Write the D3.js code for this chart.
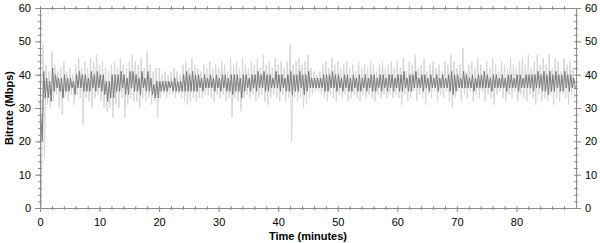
<!DOCTYPE html>
<html>
<head>
<meta charset="utf-8">
<script src="https://cdn.jsdelivr.net/npm/d3@7"></script>
<style>
  body { margin: 0; background: #fff; }
  svg { display: block; font-family: Arial, "Liberation Sans", sans-serif; }
  .tick-label { font-size: 11px; fill: #000; }
  .axis-title { font-size: 11px; font-weight: bold; fill: #000; }
</style>
</head>
<body>
<svg id="chart" width="600" height="243"></svg>
<script>
// bitrate samples, one entry per half minute (t = 0, 0.5, 1 ... 89.5)
// outer (light) spread of the trace
const peakHi = [33,49,43,41,47,43,41,42,44,41, 42,40,43,45,42,44,42,45,44,46,
  43,44,42,41,43,44,42,45,43,42, 44,46,44,43,45,42,47,43,41,42,
  42,40,41,40,41,42,41,40,43,44, 42,45,43,42,41,43,42,44,42,43,
  42,44,43,41,45,43,44,42,45,43, 42,44,43,45,42,46,43,44,42,45,
  43,44,42,44,49,43,44,45,43,44, 46,42,41,40,41,43,44,42,45,43,
  44,42,43,44,42,43,41,44,42,43, 42,44,43,41,43,44,42,43,44,42,
  44,42,45,41,44,43,46,42,43,45, 41,43,44,42,43,41,44,43,46,44,
  42,43,48,41,43,44,42,45,43,41, 44,42,45,43,41,44,43,42,45,43,
  42,44,45,43,46,42,44,46,43,45, 43,46,42,45,44,41,45,43,44,42];
const peakLo = [0,15,31,30,32,34,30,28,33,32, 34,31,34,33,25,33,32,30,33,34,
  32,30,29,30,27,31,30,33,27,31, 33,32,32,30,33,32,33,31,32,27,
  33,34,33,34,34,33,34,33,32,31, 32,33,32,33,33,34,34,33,32,34,
  33,34,32,33,27,33,32,29,33,34, 33,34,32,33,34,32,31,33,34,33,
  32,34,32,33,20,33,32,33,30,31, 33,34,35,35,34,33,32,34,33,32,
  34,33,34,32,33,34,33,32,34,33, 34,33,32,34,33,34,33,34,33,34,
  33,31,34,32,33,35,32,34,33,31, 34,33,35,32,34,33,35,32,30,33,
  35,32,34,33,35,32,34,33,35,32, 34,33,31,34,35,33,32,34,33,35,
  32,34,33,32,34,33,31,34,32,33, 32,34,31,33,32,34,33,31,34,33];
// inner (dark) band of the trace
const coreHi = [28,41,39,38,42,40,39,39,40,39, 39,38,40,41,40,40,39,41,40,41,
  40,40,38,38,40,40,40,41,40,39, 41,41,40,39,41,39,41,39,37,38,
  38,38,38,38,38,39,38,38,40,41, 40,41,40,40,39,40,39,40,39,40,
  39,40,40,39,40,40,40,39,40,40, 39,40,40,41,40,41,40,40,39,41,
  40,40,39,40,41,40,40,41,40,40, 41,39,39,39,39,40,40,40,41,40,
  40,39,40,40,39,40,39,40,39,40, 39,40,40,39,40,40,39,40,40,39,
  40,40,41,39,40,40,41,39,40,40, 39,40,39,40,39,40,39,40,41,40,
  40,39,41,40,39,40,39,40,40,41, 40,39,40,40,39,40,39,40,40,39,
  40,40,39,40,40,40,40,41,40,41, 40,41,40,41,40,40,41,40,40,39];
const coreLo = [20,33,33,32,35,36,35,33,35,35, 36,34,36,36,35,35,35,36,35,36,
  35,34,32,33,33,35,35,36,34,34, 36,35,35,34,36,35,35,34,33,33,
  35,35,35,36,35,35,35,35,35,35, 35,35,35,36,35,36,36,36,35,36,
  35,36,35,35,34,35,35,33,35,36, 35,36,35,36,36,35,35,36,36,36,
  35,36,35,35,34,35,35,36,34,35, 36,36,36,36,36,35,35,36,36,35,
  36,35,36,35,35,36,35,35,36,35, 36,35,35,36,35,36,35,36,35,36,
  35,35,36,35,35,36,36,36,35,36, 35,36,36,35,36,36,36,35,34,35,
  36,36,36,36,36,35,36,36,36,36, 36,35,36,36,36,36,35,36,36,36,
  35,36,36,36,36,35,36,36,35,35, 34,35,35,36,35,35,36,35,36,36];
const step = 0.5;
const xTicks = [0, 10, 20, 30, 40, 50, 60, 70, 80];
const yTicks = [0, 10, 20, 30, 40, 50, 60];

const svg = d3.select('#chart');
const plotLeft = 40, plotRight = 576, plotTop = 8, plotBottom = 208;

const x = d3.scaleLinear().domain([0, 90]).range([plotLeft, plotRight]);
const y = d3.scaleLinear().domain([0, 60]).range([plotBottom, plotTop]);

// zigzag through hi/lo pairs so the trace reads as a dense band
function zigzag(hi, lo, offset) {
    const pts = [];
    hi.forEach((v, i) => {
        const t = i * step;
        pts.push([t + offset, v]);
        pts.push([t + offset + step / 2, lo[i]]);
    });
    return pts;
}

const line = d3.line()
    .x(d => x(Math.min(d[0], 90)))
    .y(d => y(d[1]));

svg.append('path')
    .datum(zigzag(peakHi, peakLo, 0))
    .attr('fill', 'none')
    .attr('stroke', '#d6d6d6')
    .attr('stroke-width', 1)
    .attr('d', line);

svg.append('path')
    .datum(zigzag(coreHi, coreLo, step / 4))
    .attr('fill', 'none')
    .attr('stroke', '#7a7a7a')
    .attr('stroke-width', 1)
    .attr('d', line);

// frame and axes
const axisColor = '#8c8c8c';
const minorX = d3.range(0, 90, 2);
const minorY = d3.range(0, 61, 2);

function axis(gen, ticks, tx, ty) {
    const g = svg.append('g')
        .attr('transform', `translate(${tx},${ty})`)
        .call(gen.tickValues(ticks).tickSizeOuter(0));
    g.select('.domain').attr('stroke', axisColor);
    g.selectAll('.tick line').attr('stroke', axisColor);
    return g;
}

// minor ticks (crossing the line)
svg.append('g').selectAll('line').data(minorX).join('line')
    .attr('x1', d => x(d) + 0.5).attr('x2', d => x(d) + 0.5)
    .attr('y1', plotBottom - 2).attr('y2', plotBottom + 2)
    .attr('stroke', axisColor);
svg.append('g').selectAll('line').data(minorX).join('line')
    .attr('x1', d => x(d) + 0.5).attr('x2', d => x(d) + 0.5)
    .attr('y1', plotTop - 2).attr('y2', plotTop + 2)
    .attr('stroke', axisColor);
svg.append('g').selectAll('line').data(minorY).join('line')
    .attr('x1', plotLeft - 2).attr('x2', plotLeft + 2)
    .attr('y1', d => y(d) + 0.5).attr('y2', d => y(d) + 0.5)
    .attr('stroke', axisColor);
svg.append('g').selectAll('line').data(minorY).join('line')
    .attr('x1', plotRight - 2).attr('x2', plotRight + 2)
    .attr('y1', d => y(d) + 0.5).attr('y2', d => y(d) + 0.5)
    .attr('stroke', axisColor);

const bottomAxis = axis(d3.axisBottom(x).tickSize(4).tickPadding(6).tickFormat(d3.format('d')), xTicks, 0, plotBottom);
const topAxis = axis(d3.axisTop(x).tickSize(0).tickFormat(''), xTicks, 0, plotTop);
const leftAxis = axis(d3.axisLeft(y).tickSize(5).tickPadding(4).tickFormat(d3.format('d')), yTicks, plotLeft, 0);
const rightAxis = axis(d3.axisRight(y).tickSize(5).tickPadding(4).tickFormat(d3.format('d')), yTicks, plotRight, 0);

[bottomAxis, leftAxis, rightAxis].forEach(g => {
    g.selectAll('.tick text')
        .attr('class', 'tick-label')
        .attr('font-family', null)
        .attr('font-size', null);
});
[bottomAxis, topAxis, leftAxis, rightAxis].forEach(g => {
    g.attr('font-family', null).attr('font-size', null);
});

svg.append('text')
    .attr('class', 'axis-title')
    .attr('x', (plotLeft + plotRight) / 2)
    .attr('y', 240)
    .attr('text-anchor', 'middle')
    .text('Time (minutes)');

svg.append('text')
    .attr('class', 'axis-title')
    .attr('transform', `translate(13,${(plotTop + plotBottom) / 2}) rotate(-90)`)
    .attr('text-anchor', 'middle')
    .text('Bitrate (Mbps)');
</script>
</body>
</html>
